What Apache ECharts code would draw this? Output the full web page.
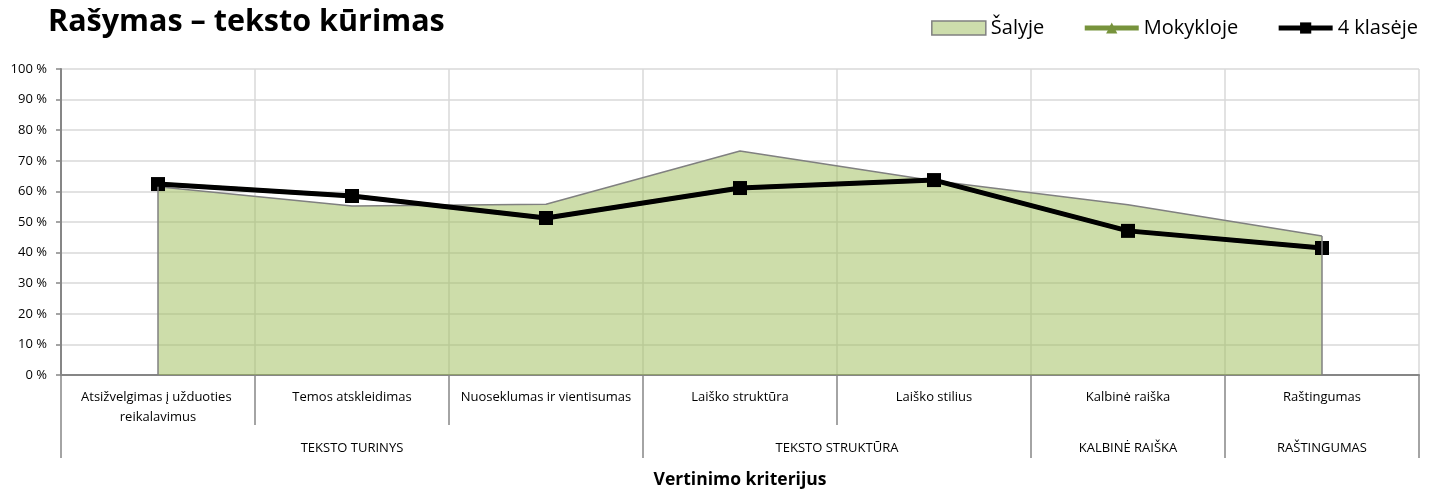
<!DOCTYPE html>
<html>
<head>
<meta charset="utf-8">
<script src="https://cdn.jsdelivr.net/npm/echarts@6/dist/echarts.min.js"></script>
<style>
  html, body { margin: 0; padding: 0; background: #fff; }
  #chart { width: 1443px; height: 493px; }
</style>
</head>
<body>
<div id="chart"></div>
<script>
// duomenys
const categories = [
    'Atsižvelgimas į užduoties reikalavimus',
    'Temos atskleidimas',
    'Nuoseklumas ir vientisumas',
    'Laiško struktūra',
    'Laiško stilius',
    'Kalbinė raiška',
    'Raštingumas'
];
const groups = ['TEKSTO TURINYS', 'TEKSTO STRUKTŪRA', 'KALBINĖ RAIŠKA', 'RAŠTINGUMAS'];
const groupSpans = [3, 2, 1, 1];

const salyje = [61.5, 55.2, 55.8, 73.2, 63.5, 55.6, 45.4];
const mokykloje = [62.4, 58.5, 51.3, 61.1, 63.7, 47.1, 41.5];
const klaseje = [62.4, 58.5, 51.3, 61.1, 63.7, 47.1, 41.5];

const yTicks = [0, 10, 20, 30, 40, 50, 60, 70, 80, 90, 100];

// grupių ašis: pusės kategorijos žingsniu
let halfLabels = new Array(categories.length * 2 + 1).fill('');
let groupEdges = [0];
let start = 0;
groups.forEach((g, i) => {
    halfLabels[start * 2 + groupSpans[i]] = g;
    start += groupSpans[i];
    groupEdges.push(start * 2);
});

const font = '"Open Sans", "Noto Sans", sans-serif';
const gridGray = '#d9d9d9';
const axisGray = '#868686';

const chart = echarts.init(document.getElementById('chart'));

const option = {
    animation: false,
    textStyle: { fontFamily: font },
    title: {
        text: 'Rašymas – teksto kūrimas',
        left: 43,
        top: 2,
        textStyle: { fontFamily: font, fontSize: 30.5, fontWeight: 'bold', color: '#000' }
    },
    legend: {
        right: 20,
        top: 13,
        itemWidth: 54,
        itemHeight: 14,
        itemGap: 38,
        textStyle: { fontFamily: font, fontSize: 20, color: '#000' },
        data: [
            { name: 'Šalyje', icon: 'rect', itemStyle: { color: 'rgb(205,221,172)', borderColor: '#808080', borderWidth: 1.5 } },
            { name: 'Mokykloje', lineStyle: { width: 5, color: '#77933c' } },
            { name: '4 klasėje', lineStyle: { width: 5, color: '#000' } }
        ]
    },
    grid: { left: 61, right: 24, top: 69, bottom: 118, containLabel: false, outerBoundsMode: 'none' },
    xAxis: [
        {
            type: 'category',
            data: categories,
            boundaryGap: true,
            axisLine: { show: true, lineStyle: { color: axisGray, width: 2 } },
            axisTick: { show: true, interval: 0, length: 50, lineStyle: { color: axisGray, width: 1.5 } },
            axisLabel: {
                interval: 0,
                color: '#000',
                fontSize: 13,
                margin: 12,
                lineHeight: 20,
                width: 188,
                overflow: 'break',
                verticalAlign: 'top'
            },
            splitLine: { show: true, interval: 0, lineStyle: { color: gridGray, width: 1.5 } }
        },
        {
            type: 'category',
            data: halfLabels,
            boundaryGap: false,
            position: 'bottom',
            offset: 50,
            axisLine: { show: false },
            axisTick: {
                show: true,
                length: 33,
                interval: (idx) => groupEdges.indexOf(idx) >= 0,
                lineStyle: { color: axisGray, width: 1.5 }
            },
            axisLabel: {
                interval: (idx, val) => val !== '',
                color: '#000',
                fontSize: 13,
                margin: 17
            },
            splitLine: { show: false },
            name: 'Vertinimo kriterijus',
            nameLocation: 'middle',
            nameGap: 46,
            nameTextStyle: { fontFamily: font, fontSize: 17.5, fontWeight: 'bold', color: '#000' }
        }
    ],
    yAxis: {
        type: 'value',
        min: 0,
        max: 100,
        interval: 10,
        axisLine: { show: true, lineStyle: { color: axisGray, width: 2 } },
        axisTick: { show: true, length: 5, lineStyle: { color: axisGray, width: 1.5 } },
        axisLabel: {
            color: '#000',
            fontSize: 13,
            margin: 14,
            formatter: (v) => yTicks.indexOf(v) >= 0 ? v + ' %' : ''
        },
        splitLine: { show: true, lineStyle: { color: gridGray, width: 1.5 } }
    },
    series: [
        {
            name: 'Šalyje',
            type: 'line',
            data: salyje,
            symbol: 'none',
            itemStyle: { color: 'rgb(205,221,172)' },
            lineStyle: { color: '#808080', width: 1.5 },
            areaStyle: { color: 'rgba(155,187,85,0.5)', opacity: 1, origin: 'start' },
            markLine: {
                silent: true,
                symbol: 'none',
                label: { show: false },
                lineStyle: { color: '#808080', width: 1.5, type: 'solid' },
                data: [
                    [{ coord: [0, 0] }, { coord: [0, salyje[0]] }],
                    [{ coord: [salyje.length - 1, 0] }, { coord: [salyje.length - 1, salyje[salyje.length - 1]] }]
                ]
            },
            z: 1
        },
        {
            name: 'Mokykloje',
            type: 'line',
            data: mokykloje,
            symbol: 'triangle',
            symbolSize: 12,
            itemStyle: { color: '#77933c' },
            lineStyle: { color: '#77933c', width: 4 },
            z: 2
        },
        {
            name: '4 klasėje',
            type: 'line',
            data: klaseje,
            symbol: 'rect',
            symbolSize: 14,
            itemStyle: { color: '#000' },
            lineStyle: { color: '#000', width: 5 },
            z: 3
        }
    ]
};

chart.setOption(option);
</script>
</body>
</html>
